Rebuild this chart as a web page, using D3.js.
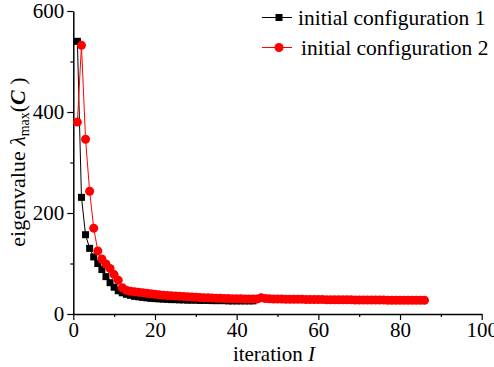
<!DOCTYPE html>
<html>
<head>
<meta charset="utf-8">
<script src="https://cdn.jsdelivr.net/npm/d3@7"></script>
<style>
html,body{margin:0;padding:0;background:#fff;}
svg{display:block;}
text{font-family:"Liberation Serif","Times New Roman",serif;fill:#000;}
</style>
</head>
<body>
<svg id="chart" width="494" height="367"></svg>
<script>
const series1Name = "initial configuration 1";
const series2Name = "initial configuration 2";
const series1 = [540,231,157,130,113,100,88,74,62,53,46,42,39,37,35,34,33,32,31,30.5,30,29.5,29,28.5,28.5,28,28,27.5,27.5,27.5,27,27,27,26.5,26.5,26.5,26.5,26,26,26,26,26,26,26];
const series2 = [380,532,346,243,170,125,109,99,90,78,67,52,47,45,44,43,42,41,40,39,38,37,36.5,36,35.5,35,34.5,34,33.5,33,32.5,32,32,31.5,31,31,30.5,30.5,30,30,30,29.5,29.5,29.5,29.5,32,30.5,30,29.5,29.5,29.5,29,29,29,29,29,28.5,28.5,28.5,28.5,28.5,28,28,28,28,28,28,28,27.5,27.5,27.5,27.5,27.5,27.5,27.5,27.5,27,27,27,27,27,27,27,27,27,27];
const xTicks = [0,20,40,60,80,100];
const xMinor = [10,30,50,70,90];
const yTicks = [0,200,400,600];
const yMinor = [100,300,500];

const svg = d3.select("#chart");
const x = d3.scaleLinear().domain([0,100]).range([73.3,481.7]);
const y = d3.scaleLinear().domain([0,600]).range([314,11]);

// minor ticks
svg.append("g").attr("transform","translate(0,314)")
  .call(d3.axisBottom(x).tickValues(xMinor).tickSize(3).tickSizeOuter(0).tickFormat(""))
  .call(g=>g.select(".domain").remove())
  .call(g=>g.selectAll("line").attr("stroke","#000").attr("stroke-width",1.2));
svg.append("g").attr("transform","translate(73.3,0)")
  .call(d3.axisLeft(y).tickValues(yMinor).tickSize(3).tickSizeOuter(0).tickFormat(""))
  .call(g=>g.select(".domain").remove())
  .call(g=>g.selectAll("line").attr("stroke","#000").attr("stroke-width",1.2));

// major axes
const xAxis = svg.append("g").attr("transform","translate(0,314)")
  .call(d3.axisBottom(x).tickValues(xTicks).tickSize(6).tickSizeOuter(0).tickPadding(2));
const yAxis = svg.append("g").attr("transform","translate(73.3,0)")
  .call(d3.axisLeft(y).tickValues(yTicks).tickSize(6).tickSizeOuter(0).tickPadding(3));
[xAxis,yAxis].forEach(a=>{
  a.select(".domain").attr("stroke","#000").attr("stroke-width",1.5);
  a.selectAll("line").attr("stroke","#000").attr("stroke-width",1.2);
  a.selectAll("text").style("font-family","'Liberation Serif',serif").style("font-size","21px").attr("fill","#000");
});

const line = d3.line().x((d,i)=>x(i+1)).y(d=>y(d));

// series 1
svg.append("path").datum(series1).attr("d",line).attr("fill","none").attr("stroke","#000").attr("stroke-width",1);
svg.append("g").selectAll("rect").data(series1).join("rect")
  .attr("x",(d,i)=>x(i+1)-3.5).attr("y",d=>y(d)-3.5).attr("width",7).attr("height",7).attr("fill","#000");

// series 2
svg.append("path").datum(series2).attr("d",line).attr("fill","none").attr("stroke","#ff0000").attr("stroke-width",1);
svg.append("g").selectAll("circle").data(series2).join("circle")
  .attr("cx",(d,i)=>x(i+1)).attr("cy",d=>y(d)).attr("r",4.5).attr("fill","#ff0000");

// legend
const leg = svg.append("g");
leg.append("line").attr("x1",262).attr("x2",292).attr("y1",17.5).attr("y2",17.5).attr("stroke","#000").attr("stroke-width",1);
leg.append("rect").attr("x",275.5).attr("y",14).attr("width",7).attr("height",7).attr("fill","#000");
leg.append("text").attr("x",298).attr("y",24.5).style("font-size","21.5px").text(series1Name);
leg.append("line").attr("x1",262).attr("x2",292).attr("y1",47.5).attr("y2",47.5).attr("stroke","#ff0000").attr("stroke-width",1);
leg.append("circle").attr("cx",279).attr("cy",47.5).attr("r",4.5).attr("fill","#ff0000");
leg.append("text").attr("x",301).attr("y",54.5).style("font-size","21.5px").text(series2Name);

// axis titles
const xt = svg.append("text").attr("x",274).attr("y",361).attr("text-anchor","middle").style("font-size","21px");
xt.append("tspan").text("iteration ");
xt.append("tspan").style("font-style","italic").text("I");

const yt = svg.append("text").attr("transform","translate(25,162) rotate(-90)").attr("text-anchor","middle").style("font-size","22px");
yt.append("tspan").text("eigenvalue ");
yt.append("tspan").style("font-style","italic").text("λ");
yt.append("tspan").style("font-size","14px").attr("dy",4).text("max");
yt.append("tspan").attr("dy",-4).text("(");
yt.append("tspan").style("font-style","italic").style("font-weight","bold").text("C");
yt.append("tspan").text(" )");
</script>
</body>
</html>
